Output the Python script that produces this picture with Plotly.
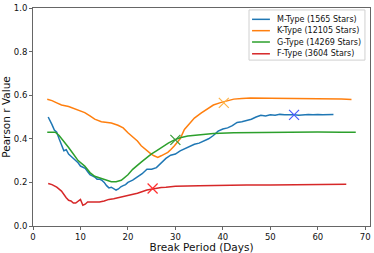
import plotly.graph_objects as go

# M-Type
m_x = [3.2,3.6,4.0,4.5,5.0,5.5,6.0,6.5,7.0,7.5,8.0,8.5,9.0,9.5,10,10.5,11,11.5,12,12.5,13,13.5,14,14.5,15,15.5,16,16.5,17,17.5,18,18.5,19,19.5,20,21,22,23,24,25,26,27,28,29,30,31,32,33,34,35,36,37,38,39,40,41,42,43,44,45,46,47,48,49,50,51,52,53,54,55,56,57,58,59,60,61,62,63,63.3]
m_y = [0.50,0.485,0.465,0.44,0.43,0.40,0.37,0.345,0.35,0.33,0.32,0.31,0.30,0.29,0.275,0.27,0.265,0.25,0.235,0.23,0.225,0.215,0.215,0.21,0.20,0.185,0.175,0.178,0.172,0.165,0.17,0.18,0.185,0.19,0.20,0.21,0.225,0.24,0.26,0.26,0.268,0.29,0.31,0.325,0.33,0.345,0.355,0.365,0.375,0.38,0.39,0.40,0.415,0.435,0.445,0.45,0.46,0.475,0.478,0.483,0.49,0.50,0.508,0.505,0.51,0.508,0.512,0.51,0.511,0.51,0.508,0.51,0.512,0.51,0.512,0.51,0.512,0.512,0.512]

# K-Type
k_x = [3.0,4,5,6,7.5,9,10.9,12,13,14.4,15.5,16.5,17.9,19,20,21,22,22.8,24,24.9,25.5,26.3,27,28.4,29,29.8,31,31.9,33,34,35.4,37,38,39.5,40.2,41,42.3,44,45.8,50,55,60,65,67.1]
k_y = [0.581,0.575,0.565,0.555,0.548,0.535,0.52,0.505,0.49,0.478,0.474,0.472,0.462,0.45,0.428,0.41,0.39,0.368,0.345,0.33,0.322,0.315,0.322,0.338,0.35,0.368,0.40,0.443,0.47,0.495,0.518,0.54,0.555,0.566,0.57,0.576,0.582,0.585,0.587,0.586,0.585,0.585,0.582,0.58]

# G-Type
g_x = [3.0,3.8,4.7,5.5,6.5,7.5,8.5,9.5,10.9,12,13,14.4,15.5,16.5,17.5,18.6,20,21,22.8,24,24.9,26,27,28.5,29.8,31,32.6,35.4,38,42.3,50,55,60,65,68]
g_y = [0.43,0.43,0.43,0.415,0.39,0.36,0.33,0.30,0.275,0.245,0.228,0.218,0.21,0.203,0.203,0.21,0.235,0.26,0.293,0.315,0.33,0.345,0.36,0.38,0.395,0.405,0.413,0.42,0.424,0.428,0.43,0.431,0.431,0.43,0.43]

# F-Type
f_x = [3.2,4,5,6,7,7.5,8,8.5,9,9.5,10,10.5,11,11.5,12,13,14,15,16,17,18,19,20,22,24,25,26,27,28,30,35,40,45,50,55,60,66]
f_y = [0.195,0.19,0.178,0.16,0.13,0.118,0.115,0.105,0.105,0.112,0.122,0.095,0.10,0.11,0.11,0.112,0.11,0.115,0.122,0.125,0.13,0.133,0.14,0.15,0.165,0.17,0.175,0.177,0.178,0.182,0.185,0.188,0.188,0.188,0.189,0.19,0.192]

names = ["M-Type (1565 Stars)", "K-Type (12105 Stars)", "G-Type (14269 Stars)", "F-Type (3604 Stars)"]
colors = ["#1f77b4", "#ff7f0e", "#2ca02c", "#d62728"]
series = [(m_x, m_y), (k_x, k_y), (g_x, g_y), (f_x, f_y)]

# break points (x markers)
bp_x = [55, 40.2, 30, 25.2]
bp_y = [0.51, 0.565, 0.395, 0.172]
bp_colors = ["#4a5cff", "#ffb347", "#3a9a3a", "#ff3030"]

fig = go.Figure()
for (xs, ys), n, c in zip(series, names, colors):
    fig.add_trace(go.Scatter(x=xs, y=ys, mode="lines", name=n, showlegend=False,
                             line=dict(color=c, width=1.5)))
for xb, yb, cb in zip(bp_x, bp_y, bp_colors):
    fig.add_trace(go.Scatter(x=[xb], y=[yb], mode="markers", showlegend=False,
                             marker=dict(symbol="x-thin", size=10, line=dict(color=cb, width=1.2))))

# Manual legend (compact, matplotlib-like)
fig.add_shape(type="rect", xref="paper", yref="paper", x0=0.641, x1=0.985, y0=0.761, y1=0.991,
              line=dict(color="#d0d0d0", width=1), fillcolor="white", layer="above")
row_y = [0.948, 0.896, 0.844, 0.790]
for ry, n, c in zip(row_y, names, colors):
    fig.add_shape(type="line", xref="paper", yref="paper", x0=0.650, x1=0.703, y0=ry, y1=ry,
                  line=dict(color=c, width=1.5), layer="above")
    fig.add_annotation(x=0.718, y=ry, xref="paper", yref="paper", text=n, showarrow=False,
                       xanchor="left", yanchor="middle", font=dict(size=8, color="#111"))

axis_common = dict(showgrid=False, zeroline=False, showline=True, mirror=True,
                   linecolor="#666666", linewidth=1, ticks="outside", ticklen=3,
                   tickcolor="#666666", tickfont=dict(size=8.5, color="#111"))
fig.update_layout(
    width=374, height=253,
    margin=dict(l=31, r=3, t=6, b=25),
    plot_bgcolor="white", paper_bgcolor="white",
    font=dict(family="DejaVu Sans", color="#111"),
    showlegend=False,
    xaxis=dict(range=[0, 71], tickvals=[0,10,20,30,40,50,60,70],
               title=dict(text="Break Period (Days)", font=dict(size=10.5), standoff=0), **axis_common),
    yaxis=dict(range=[0, 1.0], tickvals=[0,0.2,0.4,0.6,0.8,1.0], tickformat=".1f",
               title=dict(text="Pearson r Value", font=dict(size=10.5), standoff=3), **axis_common),
)
fig.write_html("out.html", config={"displayModeBar": False},
               post_script="document.body.style.margin='0';document.body.style.overflow='hidden';")
